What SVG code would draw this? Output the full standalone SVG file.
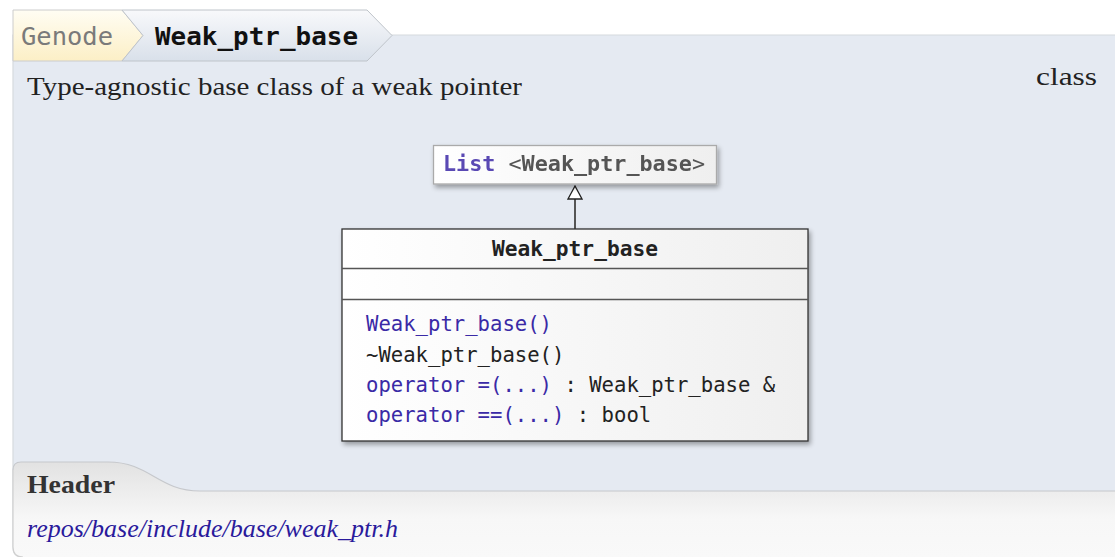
<svg xmlns="http://www.w3.org/2000/svg" width="1115" height="557" viewBox="0 0 1115 557">
  <defs>
    <linearGradient id="gTabY" x1="0" y1="0" x2="0" y2="1">
      <stop offset="0" stop-color="#fffdf3"/>
      <stop offset="1" stop-color="#fcefc6"/>
    </linearGradient>
    <linearGradient id="gTabB" x1="0" y1="0" x2="0" y2="1">
      <stop offset="0" stop-color="#f8f9fb"/>
      <stop offset="1" stop-color="#d9e0ea"/>
    </linearGradient>
    <linearGradient id="gFoot" x1="0" y1="0" x2="0" y2="1">
      <stop offset="0" stop-color="#e2e2e2"/>
      <stop offset="0.6" stop-color="#f7f7f7"/>
      <stop offset="1" stop-color="#f9f9f9"/>
    </linearGradient>
    <linearGradient id="gBox" x1="0" y1="0" x2="1" y2="0">
      <stop offset="0" stop-color="#ffffff"/>
      <stop offset="1" stop-color="#efefef"/>
    </linearGradient>
    <filter id="shadow" x="-10%" y="-20%" width="125%" height="150%">
      <feGaussianBlur in="SourceAlpha" stdDeviation="2.5"/>
      <feOffset dx="2" dy="3" result="b"/>
      <feComponentTransfer><feFuncA type="linear" slope="0.35"/></feComponentTransfer>
      <feMerge><feMergeNode/><feMergeNode in="SourceGraphic"/></feMerge>
    </filter>
    <marker id="inherit" viewBox="0 0 15 16" refX="14" refY="8" markerWidth="15" markerHeight="16" markerUnits="userSpaceOnUse" orient="auto">
      <path d="M14,8 L1,1 L1,15 Z" fill="#ffffff" stroke="#222" stroke-width="1.3"/>
    </marker>
  </defs>
  <style>
    .mono { font-family: "DejaVu Sans Mono", "Liberation Mono", monospace; }
    .serif { font-family: "Liberation Serif", "DejaVu Serif", serif; }
    .tabtxt { font-size: 25px; }
    .m { font-size: 20.6px; }
    .fn { fill: #3a2aa6; }
    .tx { fill: #222; }
    .box { fill: url(#gBox); stroke: #333; stroke-width: 1.3; }
    .sep { stroke: #555; stroke-width: 1.5; }
  </style>

  <rect width="1115" height="557" fill="#ffffff"/>

  <g id="panel">
    <path d="M13,35 L1120,35 L1120,557 L23,557 Q13,557 13,547 Z" fill="#e5eaf2" stroke="#d6dade" stroke-width="1.2"/>
    <text class="serif" x="27" y="95" font-size="25" fill="#222" textLength="495" lengthAdjust="spacingAndGlyphs">Type-agnostic base class of a weak pointer</text>
    <text class="serif" x="1036" y="85" font-size="25" fill="#222" textLength="61" lengthAdjust="spacingAndGlyphs">class</text>
  </g>

  <g id="breadcrumb">
    <path d="M13,10 L122,10 L143,35.5 L122,61 L13,61 Z" fill="url(#gTabY)" stroke="#cccccc" stroke-width="1"/>
    <path d="M122,10 L367,10 L392,35.5 L367,61 L122,61 L143,35.5 Z" fill="url(#gTabB)" stroke="#bfc4ca" stroke-width="1"/>
    <text class="mono tabtxt" x="21" y="44.5" fill="#7a7a7a" textLength="92" lengthAdjust="spacingAndGlyphs">Genode</text>
    <text class="mono tabtxt" x="155" y="44.5" fill="#111" font-weight="bold" textLength="203" lengthAdjust="spacingAndGlyphs">Weak_ptr_base</text>
  </g>

  <g id="connectors">
    <line x1="575" y1="229" x2="575" y2="186" stroke="#555" stroke-width="2" marker-end="url(#inherit)"/>
  </g>

  <g id="node-list" filter="url(#shadow)">
    <rect x="433.5" y="145.5" width="283" height="38.5" fill="url(#gBox)" stroke="#aaaaaa" stroke-width="1.3"/>
    <text class="mono" x="443" y="171" font-size="21.8" fill="#555" textLength="262" lengthAdjust="spacingAndGlyphs"><tspan fill="#5a49b4" font-weight="bold">List</tspan> &lt;<tspan font-weight="bold">Weak_ptr_base</tspan>&gt;</text>
  </g>

  <g id="node-weak-ptr-base">
    <rect class="box" x="342" y="229" width="466" height="212" filter="url(#shadow)"/>
    <line class="sep" x1="342" y1="268.5" x2="808" y2="268.5"/>
    <line class="sep" x1="342" y1="299.5" x2="808" y2="299.5"/>
    <text class="mono tx" x="575" y="255.5" font-size="21.2" font-weight="bold" text-anchor="middle">Weak_ptr_base</text>
    <text class="mono m fn" x="366" y="331">Weak_ptr_base()</text>
    <text class="mono m tx" x="366" y="361.5">~Weak_ptr_base()</text>
    <text class="mono m" x="366" y="392"><tspan class="fn">operator =(...)</tspan><tspan class="tx"> : Weak_ptr_base &amp;</tspan></text>
    <text class="mono m" x="366" y="422"><tspan class="fn">operator ==(...)</tspan><tspan class="tx"> : bool</tspan></text>
  </g>

  <g id="footer">
    <path d="M13,470 Q13,462 21,462 L108,462 C150,462 158,491 200,491 L1120,491 L1120,557 L23,557 Q13,557 13,547 Z" fill="url(#gFoot)"/>
    <path d="M13,470 Q13,462 21,462 L108,462 C150,462 158,491 200,491 L1120,491" fill="none" stroke="#c6c8cc" stroke-width="1.2"/>
    <path d="M13,470 L13,547 Q13,557 23,557" fill="none" stroke="#d0d0d0" stroke-width="1.2"/>
    <text class="serif" x="27" y="493" font-size="25" font-weight="bold" fill="#333" textLength="88" lengthAdjust="spacingAndGlyphs">Header</text>
    <text class="serif" x="27" y="537" font-size="25" font-style="italic" fill="#2a1a9c" textLength="371" lengthAdjust="spacingAndGlyphs">repos/base/include/base/weak_ptr.h</text>
  </g>
</svg>
